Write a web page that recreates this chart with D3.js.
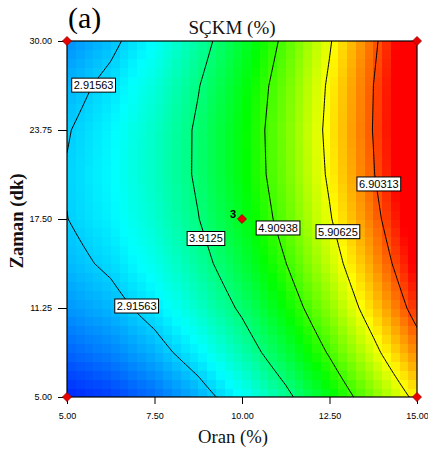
<!DOCTYPE html>
<html>
<head>
<meta charset="utf-8">
<script src="https://cdn.jsdelivr.net/npm/d3@7"></script>
<style>
  body { margin: 0; background: #fff; }
  svg text { font-family: "Liberation Sans", Arial, sans-serif; }
  svg .serif { font-family: "Liberation Serif", "Times New Roman", serif; }
</style>
</head>
<body>
<svg id="chart" width="428" height="455"></svg>
<script>
// design levels of the two factors
const oranLevels = [5, 6.25, 7.5, 8.75, 10, 11.25, 12.5, 13.75, 15];
const zamanLevels = [5, 8.125, 11.25, 14.375, 17.5, 20.625, 23.75, 26.875, 30];
// SÇKM (%), one row per Zaman level (5 -> 30), one column per Oran level
const sckm = [
  [1.91, 2.07, 2.34, 2.72, 3.20, 3.79, 4.49, 5.25, 6.05],
  [2.29, 2.47, 2.75, 3.14, 3.64, 4.25, 4.96, 5.76, 6.62],
  [2.58, 2.77, 3.07, 3.48, 3.99, 4.61, 5.34, 6.18, 7.12],
  [2.79, 2.99, 3.31, 3.73, 4.26, 4.90, 5.64, 6.49, 7.45],
  [2.91, 3.13, 3.46, 3.90, 4.44, 5.10, 5.86, 6.72, 7.70],
  [2.94, 3.18, 3.53, 3.98, 4.54, 5.21, 5.98, 6.87, 7.86],
  [2.89, 3.15, 3.51, 3.98, 4.55, 5.24, 6.03, 6.92, 7.93],
  [2.76, 3.03, 3.40, 3.89, 4.48, 5.18, 5.98, 6.90, 7.92],
  [2.54, 2.82, 3.21, 3.71, 4.32, 5.03, 5.86, 6.79, 7.82]
];
const contourLevels = [2.91563, 3.9125, 4.90938, 5.90625, 6.90313];
const oranTicks = [5, 7.5, 10, 12.5, 15];
const zamanTicks = [5, 11.25, 17.5, 23.75, 30];

const labelText = ["2.91563", "2.91563", "3.9125", "4.90938", "5.90625", "6.90313"];
const labelOran = [5.76, 6.99, 8.97, 11.03, 12.74, 13.91];
const labelZaman = [26.9, 11.39, 16.13, 16.87, 16.61, 19.96];

const designOran = [5, 5, 15, 15, 10];
const designZaman = [5, 30, 5, 30, 17.5];
const designCount = [1, 1, 1, 1, 3];

const colorStops = [1.7, 3.2, 4.6, 5.95, 7.35];
const colorRange = ["#0000ff", "#00ffff", "#00ff00", "#ffff00", "#ff0000"];

const svg = d3.select("#chart");
const x = d3.scaleLinear().domain([5, 15]).range([67, 417]);
const y = d3.scaleLinear().domain([5, 30]).range([397, 41]);
const color = d3.scaleLinear().domain(colorStops).range(colorRange).clamp(true);

// bilinear lookup in the read grid
const oi = d3.scaleLinear().domain(d3.extent(oranLevels)).range([0, oranLevels.length - 1]);
const zi = d3.scaleLinear().domain(d3.extent(zamanLevels)).range([0, zamanLevels.length - 1]);
function valueAt(o, z) {
  const fx = oi(o), fz = zi(z);
  const i = Math.min(Math.max(Math.floor(fx), 0), oranLevels.length - 2);
  const j = Math.min(Math.max(Math.floor(fz), 0), zamanLevels.length - 2);
  const tx = fx - i, tz = fz - j;
  const a = sckm[j][i] * (1 - tx) + sckm[j][i + 1] * tx;
  const b = sckm[j + 1][i] * (1 - tx) + sckm[j + 1][i + 1] * tx;
  return a * (1 - tz) + b * tz;
}

svg.append("defs").append("clipPath").attr("id", "plotClip")
  .append("rect")
  .attr("x", x(5)).attr("y", y(30))
  .attr("width", x(15) - x(5)).attr("height", y(5) - y(30));

const plot = svg.append("g").attr("clip-path", "url(#plotClip)");

// pixelated colour field
const nc = 40, nr = 40;
const cells = [];
for (let r = 0; r < nr; r++) {
  for (let c = 0; c < nc; c++) {
    const o0 = 5 + c * 10 / nc, o1 = 5 + (c + 1) * 10 / nc;
    const z0 = 5 + r * 25 / nr, z1 = 5 + (r + 1) * 25 / nr;
    cells.push({ o0, o1, z0, z1, v: valueAt((o0 + o1) / 2, (z0 + z1) / 2) });
  }
}
plot.append("g").attr("shape-rendering", "crispEdges")
  .selectAll("rect").data(cells).join("rect")
  .attr("x", d => x(d.o0))
  .attr("y", d => y(d.z1))
  .attr("width", d => x(d.o1) - x(d.o0) + 0.5)
  .attr("height", d => y(d.z0) - y(d.z1) + 0.5)
  .attr("fill", d => color(d.v));

// contour lines
const nf = 121, mf = 121;
const fine = new Array(nf * mf);
for (let r = 0; r < mf; r++) {
  for (let c = 0; c < nf; c++) {
    fine[r * nf + c] = valueAt(5 + c * 10 / (nf - 1), 30 - r * 25 / (mf - 1));
  }
}
const contours = d3.contours().size([nf, mf]).thresholds(contourLevels)(fine);
const proj = d3.geoTransform({
  point: function (px, py) {
    this.stream.point(x(5 + (px - 0.5) * 10 / (nf - 1)), y(30 - (py - 0.5) * 25 / (mf - 1)));
  }
});
plot.append("g").selectAll("path").data(contours).join("path")
  .attr("d", d3.geoPath(proj))
  .attr("fill", "none")
  .attr("stroke", "#000")
  .attr("stroke-width", 1);

// frame
svg.append("rect")
  .attr("x", x(5)).attr("y", y(30))
  .attr("width", x(15) - x(5)).attr("height", y(5) - y(30))
  .attr("fill", "none").attr("stroke", "#000").attr("stroke-width", 1.2);

// axes
const fmt = d3.format(".2f");
const gx = svg.append("g").attr("transform", `translate(0,${y(5)})`)
  .call(d3.axisBottom(x).tickValues(oranTicks).tickFormat(fmt).tickSize(7).tickPadding(9).tickSizeOuter(0));
const gy = svg.append("g").attr("transform", `translate(${x(5)},0)`)
  .call(d3.axisLeft(y).tickValues(zamanTicks).tickFormat(fmt).tickSize(9).tickPadding(6).tickSizeOuter(0));
[gx, gy].forEach(g => {
  g.select(".domain").remove();
  g.attr("font-family", null).attr("font-size", null);
  g.selectAll("text").attr("font-size", 9).attr("fill", "#000");
  g.selectAll("line").attr("stroke", "#000");
});

// contour labels
const labels = svg.append("g").selectAll("g").data(labelText).join("g")
  .attr("transform", (d, i) => `translate(${x(labelOran[i])},${y(labelZaman[i])})`);
labels.append("rect").attr("fill", "#fff").attr("stroke", "#000").attr("stroke-width", 1)
  .attr("y", -7).attr("height", 14);
labels.append("text").attr("text-anchor", "middle").attr("dy", "0.36em")
  .attr("font-size", 11).attr("fill", "#000").text(d => d);
labels.each(function () {
  const w = d3.select(this).select("text").node().getComputedTextLength() + 4;
  d3.select(this).select("rect").attr("x", -w / 2).attr("width", w);
});

// design points
const design = designOran.map((o, i) => ({ o, z: designZaman[i], n: designCount[i] }));
const points = svg.append("g").selectAll("g").data(design).join("g")
  .attr("transform", d => `translate(${x(d.o)},${y(d.z)})`);
points.append("path")
  .attr("d", d3.symbol(d3.symbolSquare, 40))
  .attr("transform", "rotate(45)")
  .attr("fill", "#e60000").attr("stroke", "#a00000").attr("stroke-width", 0.8);
points.filter(d => d.n > 1).append("text")
  .attr("x", -6).attr("y", -1).attr("text-anchor", "end")
  .attr("font-size", 11).attr("font-weight", "bold").attr("fill", "#000")
  .text(d => d.n);

// titles
svg.append("text").attr("class", "serif").attr("x", 68).attr("y", 28)
  .attr("font-size", 30).attr("fill", "#000").text("(a)");
svg.append("text").attr("class", "serif").attr("x", 232).attr("y", 34)
  .attr("text-anchor", "middle").attr("font-size", 19).attr("fill", "#111").text("SÇKM (%)");
svg.append("text").attr("class", "serif").attr("x", 233).attr("y", 443)
  .attr("text-anchor", "middle").attr("font-size", 18.7).attr("fill", "#111").text("Oran (%)");
svg.append("text").attr("class", "serif")
  .attr("transform", `translate(22.5,221) rotate(-90)`)
  .attr("text-anchor", "middle").attr("font-size", 18.7).attr("font-weight", "bold")
  .attr("fill", "#111").text("Zaman (dk)");
</script>
</body>
</html>
